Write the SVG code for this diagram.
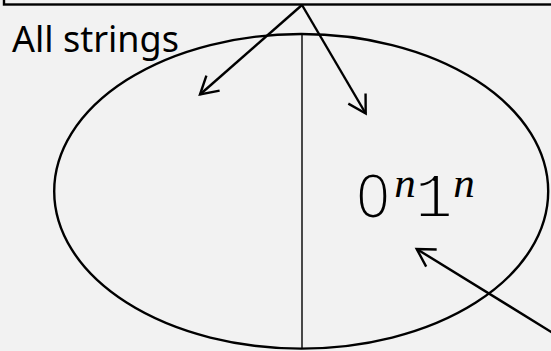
<svg xmlns="http://www.w3.org/2000/svg" width="551" height="351" viewBox="0 0 551 351">
<style>
.ln{fill:none;stroke:#000;stroke-width:2.4}
.thin{fill:none;stroke:#000;stroke-width:1.4}
.arrow{fill:none;stroke:#000;stroke-width:2.4;marker-end:url(#head)}
.lbl{font-family:"Noto Sans","Open Sans",sans-serif;font-size:36px;fill:#000}
.zero{font-family:"Open Sans","Noto Sans",sans-serif;font-weight:300;font-size:58px;fill:#000}
.mono{font-family:"Liberation Mono","DejaVu Sans Mono",monospace;font-size:63px;fill:#000;stroke:#f2f2f2;stroke-width:2}
.var{font-family:"Liberation Serif","DejaVu Serif",serif;font-style:italic;font-size:43px;fill:#000}
</style>
<defs>
<marker id="head" markerUnits="userSpaceOnUse" viewBox="-20 -12 22 24" refX="0" refY="0" markerWidth="22" markerHeight="24" orient="auto" overflow="visible">
<path d="M-17.3,-10 L0,0 L-17.3,10" fill="none" stroke="#000" stroke-width="2.4"/>
</marker>
</defs>
<rect x="0" y="0" width="551" height="351" fill="#f2f2f2"/>
<g id="box">
<rect class="ln" x="4" y="-60" width="600" height="64.5"/>
</g>
<g id="all-strings">
<ellipse class="ln" cx="301.2" cy="191.3" rx="247" ry="157.3"/>
<line class="thin" x1="302" y1="34" x2="302" y2="349"/>
<text class="lbl" x="12" y="52">All strings</text>
</g>
<g id="lang">
<text class="zero" x="373" y="217" text-anchor="middle">0</text>
<text class="var" x="405" y="197" text-anchor="middle">n</text>
<text class="mono" x="434" y="217" text-anchor="middle">1</text>
<text class="var" x="464" y="197" text-anchor="middle">n</text>
</g>
<g id="connectors">
<path class="arrow" d="M302,5 L200,94.5"/>
<path class="arrow" d="M302,5 L365.7,113.5"/>
<path class="arrow" d="M600,362 L416.7,249"/>
</g>
</svg>
